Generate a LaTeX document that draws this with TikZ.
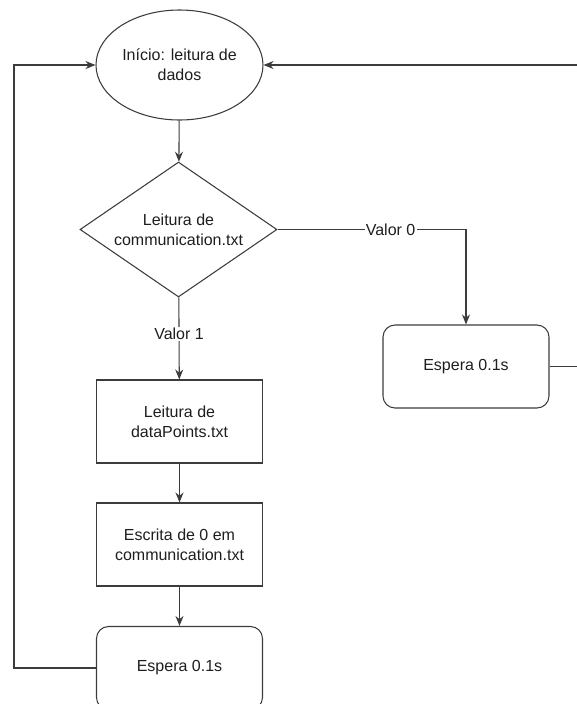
\documentclass[tikz,border=0pt]{standalone}
\usepackage{fontspec}
\setmainfont{Liberation Sans}
\usetikzlibrary{shapes.geometric,arrows.meta}

\definecolor{linegray}{RGB}{60,60,60}
\definecolor{txtgray}{RGB}{30,30,30}

\begin{document}
\begin{tikzpicture}[x=0.75pt,y=0.75pt,yscale=-1,xscale=1,
	every node/.style={font=\fontsize{12}{15}\selectfont, text=txtgray, align=center},
	startnode/.style={ellipse, draw=linegray, line width=0.8pt, minimum width=125.25pt, minimum height=82.5pt, inner sep=0pt},
	decision/.style={diamond, draw=linegray, line width=0.8pt, aspect=1.46, minimum width=147.75pt, minimum height=101.25pt, inner sep=0pt},
	process/.style={rectangle, draw=linegray, line width=0.8pt, minimum width=124.5pt, minimum height=62.25pt},
	waitbox/.style={process, rounded corners=9pt},
	flow/.style={draw=linegray, line width=0.8pt, -{Stealth[length=7.5pt,width=6pt]}},
	flowlabel/.style={fill=white, inner sep=1pt}]
		%set diagram size to 577 x 704
		\useasboundingbox (0,0) rectangle (577,704);
		
		\node [startnode] (inicio) at (179.5,65) {Início: leitura de\\dados};
		\node [decision] (leituracomm) at (178.5,229.5) {Leitura de\\communication.txt};
		\node [process] (leituradata) at (179.5,421.5) {Leitura de\\dataPoints.txt};
		\node [process] (escrita) at (179.5,544.5) {Escrita de 0 em\\communication.txt};
		\node [waitbox] (esperaesq) at (179.5,668) {Espera 0.1s};
		\node [waitbox] (esperadir) at (466,366.5) {Espera 0.1s};
		
		\coordinate (voltaesq) at (14,65);
		\coordinate (voltadir) at (582,65);
		
		\draw [flow] (inicio) -- (leituracomm);
		\draw [flow] (leituracomm) -- node [flowlabel, pos=0.45] {Valor 1} (leituradata);
		\draw [flow] (leituracomm.east) -| node [flowlabel, pos=0.3] {Valor 0} (esperadir.north);
		\draw [flow] (leituradata) -- (escrita);
		\draw [flow] (escrita) -- (esperaesq);
		
		%loops back to the start
		\draw [flow] (esperaesq.west) -| (voltaesq) -- (inicio.west);
		\draw [flow] (esperadir.east) -| (voltadir) -- (inicio.east);
		
\end{tikzpicture}
\end{document}
